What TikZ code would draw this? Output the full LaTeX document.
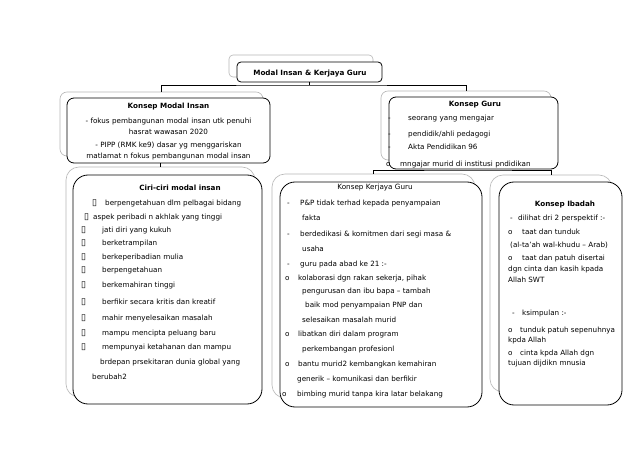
\documentclass[tikz,border=0pt]{standalone}
\usepackage{fontspec}
\setmainfont{DejaVu Sans}
\newcommand\fsz{\fontsize{7.2}{8}\selectfont}
\newcounter{tn}
\newcommand\tl[3]{\stepcounter{tn}\node[txt] (t\arabic{tn}) at (#1,{#2+2.6}) {#3};}
\newcommand\tc[3]{\stepcounter{tn}\node[ctxt] (t\arabic{tn}) at (#1,{#2+2.6}) {#3};}
\newcommand\bx{{\fontsize{9}{9}\selectfont ▯}}
\begin{document}
\begin{tikzpicture}[x=1pt,y=-1pt,
  shad/.style={draw=black!28, fill=white, rounded corners=#1, line width=0.6pt, inner sep=0pt},
  frnt/.style={draw=black, fill=white, rounded corners=#1, line width=0.8pt, inner sep=0pt},
  conn/.style={draw=black, line width=0.9pt},
  txt/.style={anchor=base west, inner sep=0pt, font=\fsz},
  ctxt/.style={anchor=base, inner sep=0pt, font=\fsz}]
\useasboundingbox (0,0) rectangle (638,452);
\fill[white] (0,0) rectangle (638,452);
% boxes
\node[shad=4pt, minimum width=144pt, minimum height=22pt] (topS) at (301,66) {};
\node[frnt=4pt, minimum width=145pt, minimum height=20pt] (topF) at (309.5,72) {};
\node[shad=7pt, minimum width=203pt, minimum height=64pt] (misS) at (161.5,124) {};
\node[frnt=7pt, minimum width=203pt, minimum height=65pt] (misF) at (168.5,130.5) {};
\node[shad=7pt, minimum width=170pt, minimum height=69pt] (gS) at (466,125.5) {};
\node[frnt=7pt, minimum width=169pt, minimum height=72pt] (gF) at (473.5,133) {};
\node[shad=13pt, minimum width=189pt, minimum height=230pt] (cS) at (160.5,282) {};
\node[frnt=15pt, minimum width=189pt, minimum height=229pt] (cF) at (167.5,289.5) {};
\node[shad=13pt, minimum width=203pt, minimum height=224pt] (kS) at (373.5,286) {};
\node[frnt=15pt, minimum width=202pt, minimum height=225pt] (kF) at (381,294.5) {};
\node[shad=13pt, minimum width=122pt, minimum height=217pt] (iS) at (551,283.5) {};
\node[frnt=15pt, minimum width=123pt, minimum height=223pt] (iF) at (560.5,293.5) {};
% connectors
\coordinate (bus1) at (309.5,85);
\draw[conn] (topF.south) -- (bus1);
\draw[conn] (misS.north) |- (bus1) -| (gS.north);
\draw[conn] (cS.north) -- (cS.north |- misF.south);
\coordinate (bus2) at (473.5,170);
\draw[conn] (kS.north) |- (bus2) -| (iS.north);
% top
\tc{310}{73}{\bfseries Modal Insan \& Kerjaya Guru}
% modal insan
\tc{168.5}{106}{\bfseries Konsep Modal Insan}
\tc{168.5}{121}{- fokus pembangunan modal insan utk penuhi}
\tc{168.5}{131.5}{hasrat wawasan 2020}
\tc{168.5}{145}{- PIPP (RMK ke9) dasar yg menggariskan}
\tc{168.5}{155.5}{matlamat n fokus pembangunan modal insan}
% konsep guru
\tc{475}{104}{\bfseries Konsep Guru}
\tl{388}{118}{-}\tl{408}{118}{seorang yang mengajar}
\tl{388}{134}{-}\tl{408}{134}{pendidik/ahli pedagogi}
\tl{388}{147}{-}\tl{408}{147}{Akta Pendidikan 96}
\tl{386}{164}{o}\tl{400}{164}{mngajar murid di institusi pndidikan}
% ciri-ciri
\tc{180}{188}{\bfseries Ciri-ciri modal insan}
\tl{92}{203}{\bx}\tl{105}{203}{berpengetahuan dlm pelbagai bidang}
\tl{84}{217}{\bx}\tl{93}{217}{aspek peribadi n akhlak yang tinggi}
\tl{81}{230}{\bx}\tl{102}{230}{jati diri yang kukuh}
\tl{81}{243}{\bx}\tl{102}{243}{berketrampilan}
\tl{81}{257}{\bx}\tl{102}{257}{berkeperibadian mulia}
\tl{81}{270}{\bx}\tl{102}{270}{berpengetahuan}
\tl{81}{285}{\bx}\tl{102}{285}{berkemahiran tinggi}
\tl{81}{302}{\bx}\tl{102}{302}{berfikir secara kritis dan kreatif}
\tl{81}{318}{\bx}\tl{102}{318}{mahir menyelesaikan masalah}
\tl{81}{333}{\bx}\tl{102}{333}{mampu mencipta peluang baru}
\tl{81}{347}{\bx}\tl{102}{347}{mempunyai ketahanan dan mampu}
\tl{100}{362}{brdepan prsekitaran dunia global yang}
\tl{92}{377}{berubah2}
% kerjaya
\tc{375}{187}{Konsep Kerjaya Guru}
\tl{287}{203}{-}\tl{300}{203}{P\&P tidak terhad kepada penyampaian}
\tl{302}{218}{fakta}
\tl{287}{234}{-}\tl{300}{234}{berdedikasi \& komitmen dari segi masa \&}
\tl{302}{249}{usaha}
\tl{287}{264}{-}\tl{300}{264}{guru pada abad ke 21 :-}
\tl{285}{278}{o}\tl{298}{278}{kolaborasi dgn rakan sekerja, pihak}
\tl{302}{291}{pengurusan dan ibu bapa – tambah}
\tl{305}{305}{baik mod penyampaian PNP dan}
\tl{302}{320}{selesaikan masalah murid}
\tl{285}{334}{o}\tl{298}{334}{libatkan diri dalam program}
\tl{302}{349}{perkembangan profesionl}
\tl{285}{364}{o}\tl{298}{364}{bantu murid2 kembangkan kemahiran}
\tl{297}{379}{generik – komunikasi dan berfikir}
\tl{282}{394}{o}\tl{297}{394}{bimbing murid tanpa kira latar belakang}
% ibadah
\tc{565}{204}{\bfseries Konsep Ibadah}
\tl{510}{218}{-}\tl{518}{218}{dilihat dri 2 perspektif :-}
\tl{508}{232}{o}\tl{522}{232}{taat dan tunduk}
\tl{510}{245}{(al-ta'ah wal-khudu – Arab)}
\tl{508}{258}{o}\tl{522}{258}{taat dan patuh disertai}
\tl{508}{269}{dgn cinta dan kasih kpada}
\tl{508}{280}{Allah SWT}
\tl{512}{313}{-}\tl{522}{313}{ksimpulan :-}
\tl{508}{330}{o}\tl{520}{330}{tunduk patuh sepenuhnya}
\tl{508}{340}{kpda Allah}
\tl{508}{353}{o}\tl{520}{353}{cinta kpda Allah dgn}
\tl{508}{363}{tujuan dijdikn mnusia}
\end{tikzpicture}
\end{document}
